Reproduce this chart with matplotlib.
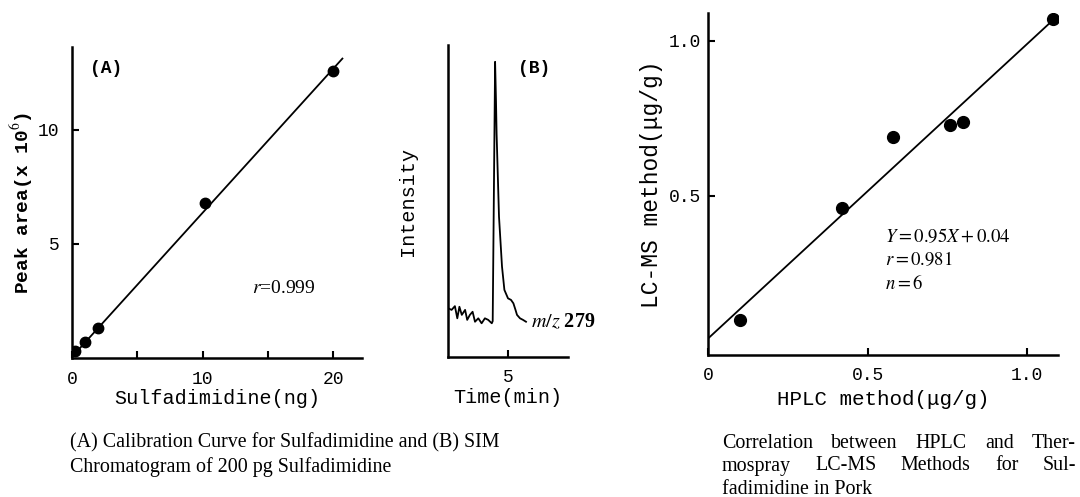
import matplotlib
matplotlib.use("Agg")
import matplotlib.pyplot as plt

plt.rcParams['mathtext.fontset'] = 'stix'

W, H = 1080, 497

# (A) calibration curve
calib_ng = [0.2, 1.0, 2.0, 10.2, 20.0]
calib_area = [0.3, 0.7, 1.3, 6.8, 12.6]
calib_slope, calib_icpt = 0.632, 0.05
calib_xfit = [0, 20.7]

# (B) SIM chromatogram, m/z 279
chrom_time = [3.01, 3.12, 3.23, 3.31, 3.38, 3.46, 3.57, 3.64, 3.73, 3.82, 3.90,
              4.01, 4.12, 4.23, 4.34, 4.46, 4.49, 4.57, 4.60, 4.62, 4.70, 4.80,
              4.88, 5.00, 5.10, 5.18, 5.25, 5.30, 5.40, 5.50, 5.60]
chrom_int = [15.6, 15.1, 16.3, 12.4, 16.1, 13.5, 15.1, 11.9, 13.5, 14.5, 11.3,
             12.4, 10.8, 12.4, 11.9, 10.8, 11.5, 94.6, 82.0, 71.5, 45.0, 29.0,
             21.5, 18.8, 18.3, 17.2, 15.1, 13.5, 12.4, 11.9, 11.3]

# correlation HPLC vs LC-MS
hplc = [0.10, 0.42, 0.58, 0.76, 0.80, 1.08]
lcms = [0.10, 0.46, 0.69, 0.73, 0.74, 1.07]
corr_slope, corr_icpt = 0.95, 0.04
corr_xfit = [0, 1.097]

mono = 'Liberation Mono'
serif = 'Liberation Serif'


def px_axes(l, t, r, b):
    return fig.add_axes([l / W, 1 - b / H, (r - l) / W, (b - t) / H])


def style(ax, pad=9):
    for s in ['top', 'right']:
        ax.spines[s].set_visible(False)
    for s in ['left', 'bottom']:
        ax.spines[s].set_linewidth(1.8)
    ax.tick_params(direction='in', length=5, width=1.5, pad=pad)
    for lab in ax.get_xticklabels() + ax.get_yticklabels():
        lab.set_fontfamily(mono)
        lab.set_fontsize(13)


fig = plt.figure(figsize=(W / 100, H / 100), dpi=100)

# ---- (A)
axA = px_axes(72, 47, 362, 358)
axA.set_xlim(0, 22.2)
axA.set_ylim(0, 13.64)
axA.plot(calib_xfit, [calib_slope * x + calib_icpt for x in calib_xfit], color='black', lw=1.3)
axA.plot(calib_ng, calib_area, 'o', color='black', ms=7.5)
axA.set_xticks([0, 10, 20])
axA.set_xticks([5, 15], minor=True)
axA.set_yticks([5, 10])
style(axA)
axA.tick_params(which='minor', direction='in', length=5, width=1.5)
axA.set_xlabel('Sulfadimidine(ng)', fontfamily=mono, fontsize=14.5, labelpad=1)
axA.set_ylabel('Peak area(x 10$^6$)', fontfamily=mono, fontsize=14, fontweight='bold', labelpad=2)
axA.text(1.38, 12.7, '(A)', fontfamily=mono, fontsize=13, fontweight='bold', va='center')
axA.text(13.8, 3.07, r'$r$=0.999', fontfamily=serif, fontsize=14, va='center')

# ---- (B)
axB = px_axes(448, 45, 568, 357)
axB.set_xlim(3, 7)
axB.set_ylim(0, 100)
axB.plot(chrom_time, chrom_int, color='black', lw=1.3)
axB.set_xticks([5])
axB.set_yticks([])
style(axB)
axB.set_xlabel('Time(min)', fontfamily=mono, fontsize=14.5, labelpad=1)
axB.set_ylabel('Intensity', fontfamily=mono, fontsize=14.5, labelpad=22)
axB.text(5.33, 92.6, '(B)', fontfamily=mono, fontsize=13, fontweight='bold', va='center')
axB.text(5.78, 11.0, r'$\mathbf{\mathit{m/z}}$ 279', fontfamily=serif, fontsize=14.5,
         fontweight='bold', va='center', clip_on=False)

# ---- correlation
axC = px_axes(708, 13, 1058, 355)
axC.set_xlim(0, 1.097)
axC.set_ylim(-0.013, 1.09)
axC.plot(corr_xfit, [corr_slope * x + corr_icpt for x in corr_xfit], color='black', lw=1.3)
axC.plot(hplc, lcms, 'o', color='black', ms=8.5)
axC.set_xticks([0, 0.5, 1.0])
axC.set_xticklabels(['0', '0.5', '1.0'])
axC.set_yticks([0.5, 1.0])
style(axC)
axC.tick_params(axis='y', pad=5)
axC.set_xlabel('HPLC method(μg/g)', fontfamily=mono, fontsize=15, labelpad=4)
axC.set_ylabel('LC-MS method(μg/g)', fontfamily=mono, fontsize=16.5, labelpad=4)
axC.text(0.555, 0.369, r'$Y=0.95X+0.04$', fontsize=13.5, va='center')
axC.text(0.555, 0.294, r'$r=0.981$', fontsize=13.5, va='center')
axC.text(0.555, 0.218, r'$n=6$', fontsize=13.5, va='center')

# ---- captions
cap_kw = dict(fontfamily=serif, fontsize=14.4, va='center')
fig.text(70 / W, 1 - 443 / H, '(A) Calibration Curve for Sulfadimidine and (B) SIM', **cap_kw)
fig.text(70 / W, 1 - 467 / H, 'Chromatogram of 200 pg Sulfadimidine', **cap_kw)

renderer = fig.canvas.get_renderer()


def justify(words, x0, x1, y):
    texts = [fig.text(0, 1 - y / H, w, **cap_kw) for w in words]
    widths = [t.get_window_extent(renderer).width for t in texts]
    gap = (x1 - x0 - sum(widths)) / (len(words) - 1)
    x = x0
    for t, w in zip(texts, widths):
        t.set_x(x / W)
        x += w + gap


justify(['Correlation', 'between', 'HPLC', 'and', 'Ther-'], 722, 1076, 443)
justify(['mospray', 'LC-MS', 'Methods', 'for', 'Sul-'], 722, 1076, 466)
fig.text(722 / W, 1 - 489 / H, 'fadimidine in Pork', **cap_kw)

fig.savefig('out.png', dpi=100)
